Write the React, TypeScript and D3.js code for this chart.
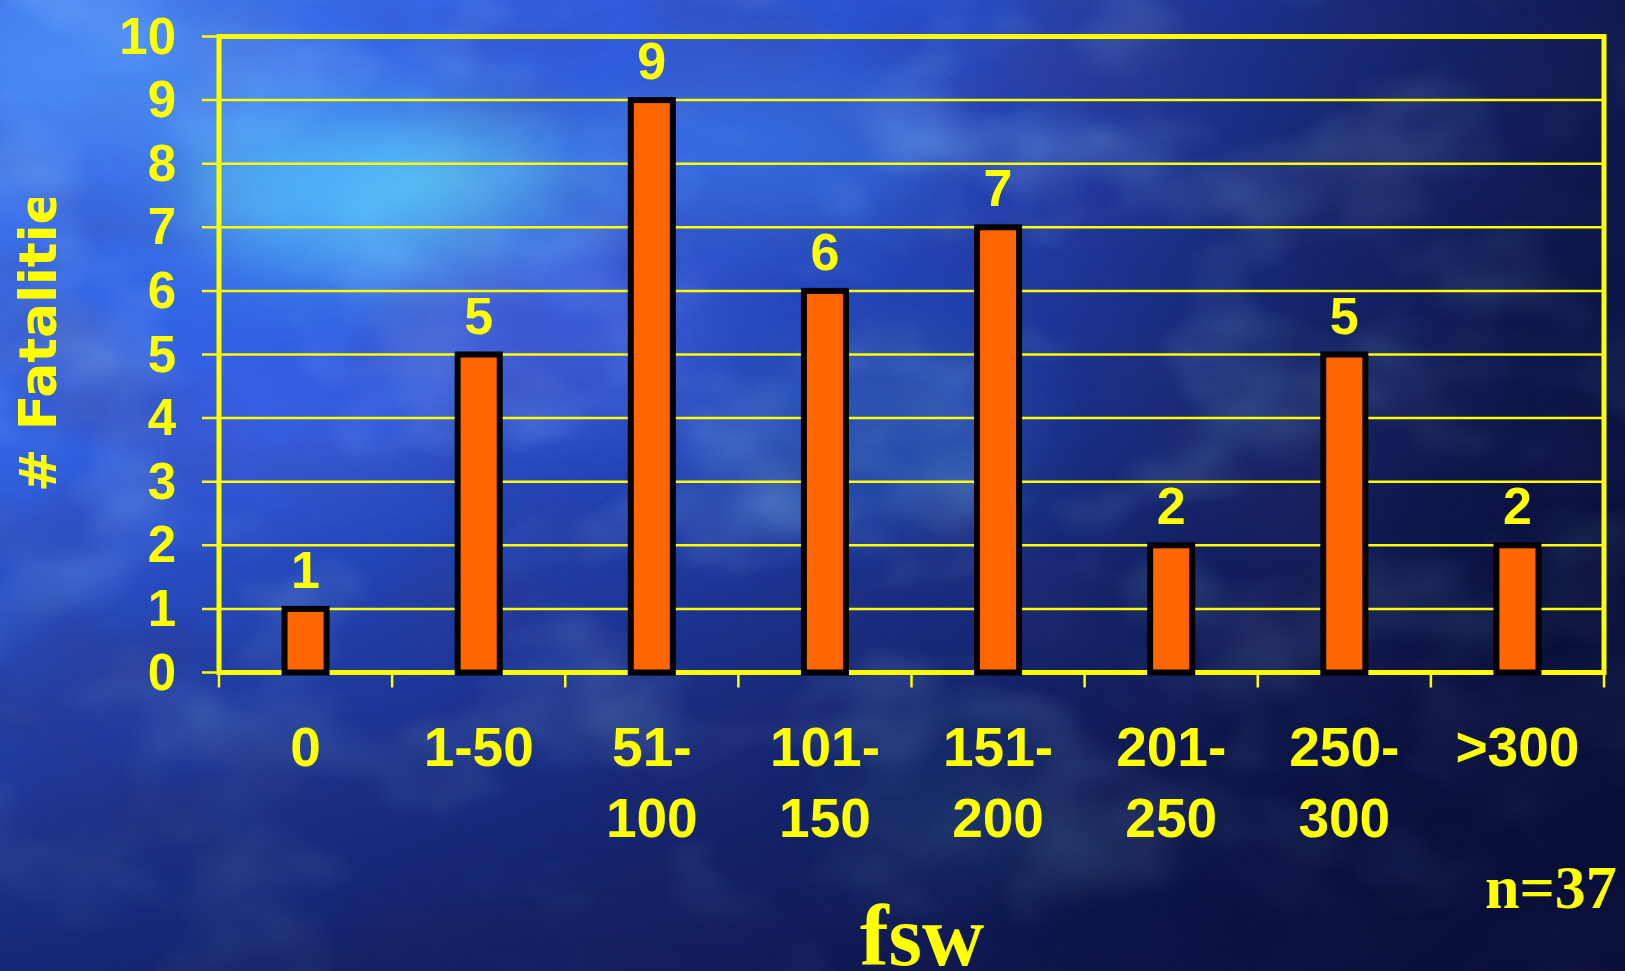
import React from "react";
import * as d3 from "d3";

const categories: string[][] = [["0"], ["1-50"], ["51-", "100"], ["101-", "150"], ["151-", "200"], ["201-", "250"], ["250-", "300"], [">300"]];
const values: number[] = [1, 5, 9, 6, 7, 2, 5, 2];
const yTicks: number[] = [0, 1, 2, 3, 4, 5, 6, 7, 8, 9, 10];
const yTitle = "# Fatalities";
const xTitle = "fsw";
const note = "n=37";

const W = 1625;
const H = 971;
const YEL = "#FFFF00";
const ORANGE = "#FF6600";

export default function App() {
  const left = 219, right = 1604, top = 36.5, bottom = 672.5;
  const keys = categories.map((c) => c.join(" "));
  const x = d3.scaleBand<string>().domain(keys).range([left, right]).padding(0);
  const y = d3.scaleLinear().domain([0, 10]).range([bottom, top]);
  const bw = x.bandwidth() * 0.243;
  const boundaries = d3.range(keys.length + 1).map((i) => left + i * x.step());
  const sans = "'Liberation Sans', Arial, sans-serif";
  const serif = "'Liberation Serif', 'Times New Roman', serif";

  return (
    <svg width={W} height={H} style={{ position: "absolute", left: 0, top: 0, display: "block" }}>
      <defs>
        <linearGradient id="bg" x1="0" y1="0" x2="1" y2="0.6">
          <stop offset="0" stopColor="#3f78ee" />
          <stop offset="0.3" stopColor="#2f5ce0" />
          <stop offset="0.55" stopColor="#2240b0" />
          <stop offset="0.78" stopColor="#182a78" />
          <stop offset="1" stopColor="#0c1446" />
        </linearGradient>
        <linearGradient id="bottomDark" x1="0" y1="0" x2="0" y2="1">
          <stop offset="0.45" stopColor="#0a1040" stopOpacity="0" />
          <stop offset="1" stopColor="#0a1040" stopOpacity="0.6" />
        </linearGradient>
        <linearGradient id="rightDark" x1="0" y1="0" x2="1" y2="0">
          <stop offset="0.6" stopColor="#080c30" stopOpacity="0" />
          <stop offset="1" stopColor="#080c30" stopOpacity="0.6" />
        </linearGradient>
        <filter id="blur" x="-50%" y="-50%" width="200%" height="200%">
          <feGaussianBlur stdDeviation="40" />
        </filter>
        <filter id="clouds" x="0" y="0" width="100%" height="100%">
          <feTurbulence type="fractalNoise" baseFrequency="0.006 0.009" numOctaves={3} seed={7} result="n" />
          <feColorMatrix in="n" type="matrix" values="0 0 0 0 0.35  0 0 0 0 0.65  0 0 0 0 1  0 0 0 1.6 -0.75" />
        </filter>
        <filter id="clouds2" x="0" y="0" width="100%" height="100%">
          <feTurbulence type="fractalNoise" baseFrequency="0.005 0.008" numOctaves={3} seed={21} result="n" />
          <feColorMatrix in="n" type="matrix" values="0 0 0 0 0.05  0 0 0 0 0.05  0 0 0 0 0.25  0 0 0 1.6 -0.7" />
        </filter>
        <clipPath id="titleClip">
          <rect x={0} y={198} width={120} height={400} />
        </clipPath>
      </defs>
      <rect x={0} y={0} width={W} height={H} fill="url(#bg)" />
      <rect x={0} y={0} width={W} height={H} filter="url(#clouds)" opacity={0.5} />
      <rect x={0} y={0} width={W} height={H} filter="url(#clouds2)" opacity={0.5} />
      <g filter="url(#blur)">
        <ellipse cx={330} cy={190} rx={150} ry={80} fill="#5fd8ff" opacity={0.65} />
        <ellipse cx={470} cy={175} rx={110} ry={60} fill="#66e0ff" opacity={0.55} />
        <ellipse cx={110} cy={70} rx={150} ry={80} fill="#5aa8ff" opacity={0.45} />
        <ellipse cx={760} cy={150} rx={180} ry={80} fill="#4a98ff" opacity={0.35} />
        <ellipse cx={560} cy={330} rx={160} ry={90} fill="#5a6cf0" opacity={0.35} />
        <ellipse cx={880} cy={430} rx={140} ry={90} fill="#3a88d8" opacity={0.3} />
        <ellipse cx={300} cy={430} rx={140} ry={80} fill="#4a6af0" opacity={0.3} />
        <ellipse cx={950} cy={820} rx={110} ry={70} fill="#2a7a9a" opacity={0.3} />
      </g>
      <rect x={0} y={0} width={W} height={H} fill="url(#bottomDark)" />
      <rect x={0} y={0} width={W} height={H} fill="url(#rightDark)" />

      {/* gridlines and left ticks */}
      {yTicks.map((t) => (
        <line key={"g" + t} x1={202} x2={t === 0 || t === 10 ? left : right} y1={y(t)} y2={y(t)} stroke={YEL} strokeWidth={2.5} />
      ))}
      {/* bottom ticks */}
      {boundaries.map((bx, i) => (
        <line key={"t" + i} x1={bx} x2={bx} y1={bottom} y2={bottom + 15} stroke={YEL} strokeWidth={2.5} />
      ))}
      {/* plot frame */}
      <rect x={left} y={top} width={right - left} height={bottom - top} fill="none" stroke={YEL} strokeWidth={5} />

      {/* bars */}
      {values.map((v, i) => {
        const cx = (x(keys[i]) as number) + x.bandwidth() / 2;
        return (
          <rect key={"b" + i} x={cx - bw / 2} y={y(v)} width={bw} height={y(0) - y(v)} fill={ORANGE} stroke="#000" strokeWidth={6} />
        );
      })}
      {/* value labels */}
      {values.map((v, i) => {
        const cx = (x(keys[i]) as number) + x.bandwidth() / 2;
        return (
          <text key={"v" + i} x={cx} y={y(v) - 21} textAnchor="middle" fill={YEL} fontFamily={sans} fontWeight="bold" fontSize={52}>
            {v}
          </text>
        );
      })}
      {/* y tick labels */}
      {yTicks.map((t) => (
        <text key={"yl" + t} x={176} y={y(t) + 17} textAnchor="end" fill={YEL} fontFamily={sans} fontWeight="bold" fontSize={51}>
          {t}
        </text>
      ))}
      {/* x category labels */}
      {categories.map((lines, i) => {
        const cx = (x(keys[i]) as number) + x.bandwidth() / 2;
        return (
          <text key={"xl" + i} x={cx} y={766} textAnchor="middle" fill={YEL} fontFamily={sans} fontWeight="bold" fontSize={55}>
            {lines.map((l, j) => (
              <tspan key={j} x={cx} dy={j === 0 ? 0 : 71}>
                {l}
              </tspan>
            ))}
          </text>
        );
      })}
      {/* y axis title */}
      <g clipPath="url(#titleClip)">
        <text transform={`translate(56,492) rotate(-90)`} textAnchor="start" fill={YEL} fontFamily="'DejaVu Sans', Verdana, sans-serif" fontWeight="bold" fontSize={52}>
          {yTitle}
        </text>
      </g>
      {/* x title */}
      <text x={922} y={965} textAnchor="middle" fill={YEL} fontFamily={serif} fontWeight="bold" fontSize={86}>
        {xTitle}
      </text>
      {/* note */}
      <text x={1485} y={908} textAnchor="start" fill={YEL} fontFamily={serif} fontWeight="bold" fontSize={62}>
        {note}
      </text>
    </svg>
  );
}
